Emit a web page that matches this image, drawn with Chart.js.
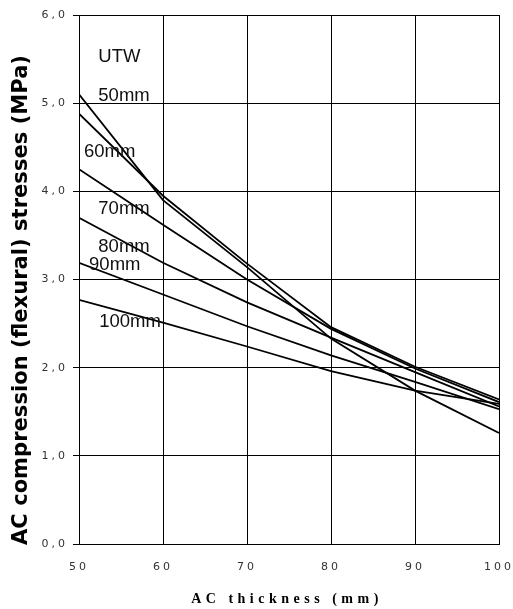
<!DOCTYPE html>
<html>
<head>
<meta charset="utf-8">
<script src="https://cdn.jsdelivr.net/npm/chart.js@4.4.1/dist/chart.umd.min.js"></script>
<style>
  body { margin: 0; background: #fff; }
  #wrap { width: 513px; height: 609px; }
</style>
</head>
<body>
<div id="wrap"><canvas id="stressChart" width="513" height="609"></canvas></div>
<script>
// AC thickness (mm) on the x axis
const thickness = [50, 60, 70, 80, 90, 100];

// stresses (MPa) for each UTW thickness
const utw50 = [5.10, 3.90, 3.14, 2.33, 1.74, 1.26];
const utw60 = [4.88, 3.95, 3.18, 2.46, 2.01, 1.64];
const utw70 = [4.25, 3.62, 3.00, 2.44, 1.99, 1.61];
const utw80 = [3.70, 3.19, 2.74, 2.34, 1.95, 1.56];
const utw90 = [3.19, 2.83, 2.47, 2.14, 1.84, 1.53];
const utw100 = [2.77, 2.51, 2.24, 1.96, 1.74, 1.59];

const seriesNames = ['50mm', '60mm', '70mm', '80mm', '90mm', '100mm'];
const seriesValues = [utw50, utw60, utw70, utw80, utw90, utw100];

// in-plot labels (text, x in mm, y in MPa)
const noteText = ['UTW', '50mm', '60mm', '70mm', '80mm', '90mm', '100mm'];
const noteX = [52.3, 52.3, 50.6, 52.3, 52.3, 51.2, 52.4];
const noteY = [5.52, 5.08, 4.45, 3.80, 3.37, 3.16, 2.52];

const xTitle = 'AC thickness (mm)';
const yTitle = 'AC compression (flexural) stresses (MPa)';

const datasets = seriesNames.map(function (name, i) {
    return {
        label: name,
        data: thickness.map(function (t, j) { return { x: t, y: seriesValues[i][j] }; }),
        borderColor: '#000',
        borderWidth: 1.8,
        pointRadius: 0,
        fill: false,
        tension: 0
    };
});

// spaced-out tick labels, then notes and titles drawn by hand
const textPlugin = {
    id: 'textPlugin',
    beforeDraw: function (chart) {
        chart.ctx.letterSpacing = '3px';
    },
    beforeDatasetsDraw: function (chart) {
        chart.ctx.letterSpacing = '0px';
    },
    afterDatasetsDraw: function (chart) {
        const ctx = chart.ctx;
        const xs = chart.scales.x, ys = chart.scales.y;
        ctx.save();
        ctx.letterSpacing = '0px';
        ctx.fillStyle = '#111';
        ctx.font = '18.5px "Liberation Sans", Arial, sans-serif';
        ctx.textAlign = 'left';
        ctx.textBaseline = 'middle';
        noteText.forEach(function (txt, i) {
            ctx.fillText(txt, xs.getPixelForValue(noteX[i]), ys.getPixelForValue(noteY[i]));
        });
        ctx.restore();
    },
    afterDraw: function (chart) {
        const ctx = chart.ctx;
        const area = chart.chartArea;
        ctx.save();
        // x title
        ctx.fillStyle = '#000';
        ctx.letterSpacing = '4.5px';
        ctx.font = 'bold 14px "Liberation Serif", "DejaVu Serif", serif';
        ctx.textAlign = 'center';
        ctx.textBaseline = 'middle';
        ctx.fillText(xTitle, (area.left + area.right) / 2 - 2, 599);
        // y title, squeezed to the plot height
        ctx.letterSpacing = '0px';
        ctx.font = 'bold 22px "DejaVu Sans", sans-serif';
        const w = ctx.measureText(yTitle).width;
        ctx.translate(21, 300);
        ctx.rotate(-Math.PI / 2);
        ctx.scale(490 / w, 1);
        ctx.fillText(yTitle, 0, 0);
        ctx.restore();
    }
};

new Chart(document.getElementById('stressChart'), {
    type: 'line',
    data: { datasets: datasets },
    options: {
        responsive: false,
        animation: false,
        layout: { padding: { top: 15, right: 14, left: 0, bottom: 0 } },
        plugins: {
            legend: { display: false },
            tooltip: { enabled: false }
        },
        scales: {
            x: {
                type: 'linear',
                min: 50,
                max: 100,
                afterFit: function (s) {
                    s.height = 65;
                    s.paddingLeft = 0;
                    s.paddingRight = 0;
                },
                ticks: {
                    stepSize: 10,
                    padding: 17,
                    color: '#333',
                    font: { family: '"DejaVu Sans", sans-serif', size: 11 }
                },
                grid: { color: '#000', lineWidth: 1, drawTicks: false },
                border: { color: '#000', width: 1 }
            },
            y: {
                min: 0,
                max: 6,
                afterFit: function (s) {
                    s.width = 79;
                    s.paddingTop = 0;
                    s.paddingBottom = 0;
                },
                ticks: {
                    stepSize: 1,
                    padding: 5,
                    color: '#333',
                    font: { family: '"DejaVu Sans", sans-serif', size: 11 },
                    callback: function (v) { return v.toFixed(1).replace('.', ','); }
                },
                grid: { color: '#000', lineWidth: 1, tickLength: 6 },
                border: { color: '#000', width: 1 }
            }
        }
    },
    plugins: [textPlugin]
});
</script>
</body>
</html>
